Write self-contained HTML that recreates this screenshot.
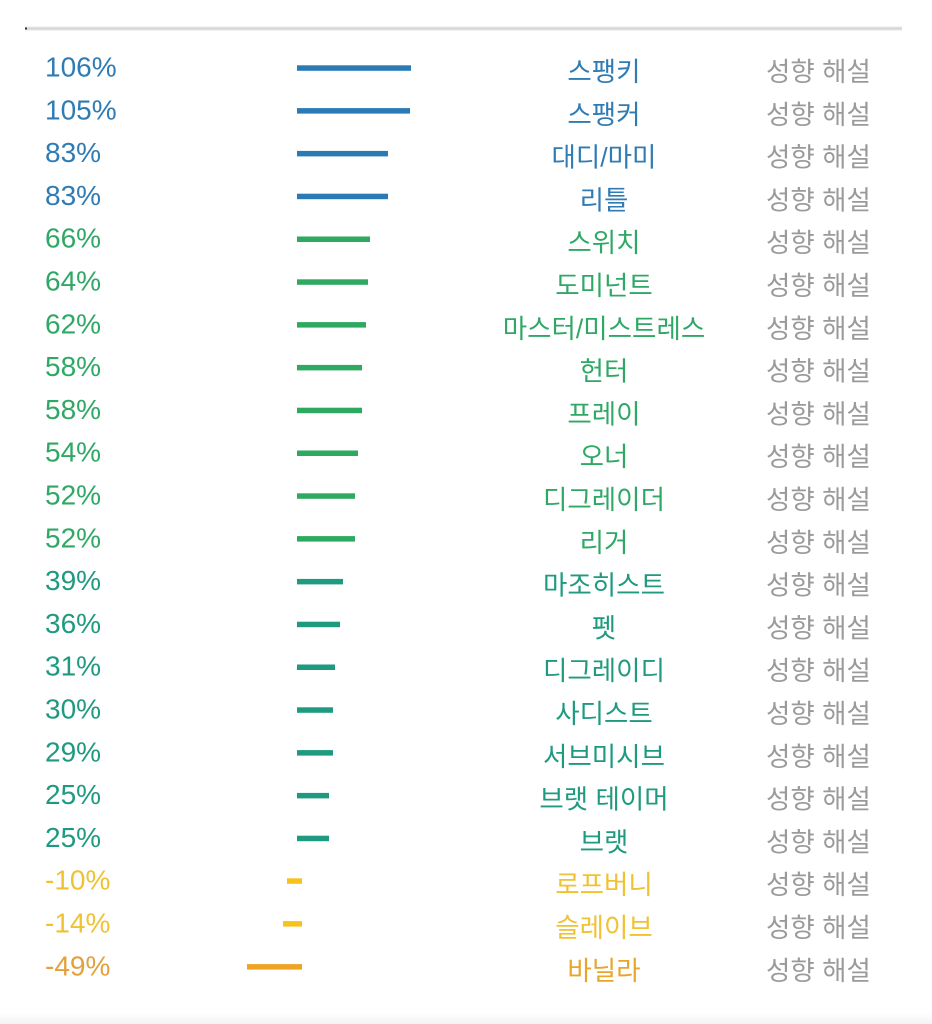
<!DOCTYPE html>
<html><head><meta charset="utf-8">
<style>
html,body{margin:0;padding:0;background:#fff;}
svg{display:block;}
.p{font-family:"Liberation Sans",Arial,sans-serif;font-size:28px;}
.n{font-family:"Liberation Sans","Noto Sans CJK KR",sans-serif;font-size:26.5px;text-anchor:middle;}
.g{font-family:"Liberation Sans","Noto Sans CJK KR",sans-serif;font-size:26.5px;fill:#9a9a9a;}
</style></head><body>
<svg width="932" height="1024" viewBox="0 0 932 1024" xmlns="http://www.w3.org/2000/svg">
<defs>
<linearGradient id="tl" x1="0" y1="0" x2="0" y2="1">
<stop offset="0" stop-color="#ececec"/><stop offset="0.5" stop-color="#d4d4d4"/><stop offset="1" stop-color="#e8e8e8"/>
</linearGradient>
<linearGradient id="bt" x1="0" y1="0" x2="0" y2="1">
<stop offset="0" stop-color="#ffffff"/><stop offset="1" stop-color="#f3f3f3"/>
</linearGradient>
</defs>
<rect x="25" y="26.5" width="877" height="4" fill="url(#tl)"/>
<rect x="25" y="27.5" width="2" height="2" fill="#333"/>
<rect x="0" y="1013" width="932" height="11" fill="url(#bt)"/>

<g id="rows">
<text class="p" x="45" y="76.5" fill="#2f7bb3">106%</text>
<rect x="297" y="65.3" width="114" height="5.5" fill="#2a7ab6"/>
<text class="n" x="604" y="81" fill="#2f7bb3">스팽키</text>
<text class="g" x="766" y="81">성향 해설</text>

<text class="p" x="45" y="119.3" fill="#2f7bb3">105%</text>
<rect x="297" y="108.1" width="113" height="5.5" fill="#2a7ab6"/>
<text class="n" x="604" y="123.8" fill="#2f7bb3">스팽커</text>
<text class="g" x="766" y="123.8">성향 해설</text>

<text class="p" x="45" y="162.1" fill="#2f7bb3">83%</text>
<rect x="297" y="150.9" width="91" height="5.5" fill="#2a7ab6"/>
<text class="n" x="604" y="166.6" fill="#2f7bb3">대디/마미</text>
<text class="g" x="766" y="166.6">성향 해설</text>

<text class="p" x="45" y="204.9" fill="#2f7bb3">83%</text>
<rect x="297" y="193.7" width="91" height="5.5" fill="#2a7ab6"/>
<text class="n" x="604" y="209.4" fill="#2f7bb3">리틀</text>
<text class="g" x="766" y="209.4">성향 해설</text>

<text class="p" x="45" y="247.7" fill="#2fa866">66%</text>
<rect x="297" y="236.5" width="73" height="5.5" fill="#2eaa60"/>
<text class="n" x="604" y="252.2" fill="#2fa866">스위치</text>
<text class="g" x="766" y="252.2">성향 해설</text>

<text class="p" x="45" y="290.5" fill="#2fa866">64%</text>
<rect x="297" y="279.3" width="71" height="5.5" fill="#2eaa60"/>
<text class="n" x="604" y="295" fill="#2fa866">도미넌트</text>
<text class="g" x="766" y="295">성향 해설</text>

<text class="p" x="45" y="333.3" fill="#2fa866">62%</text>
<rect x="297" y="322.1" width="69" height="5.5" fill="#2eaa60"/>
<text class="n" x="604" y="337.8" fill="#2fa866">마스터/미스트레스</text>
<text class="g" x="766" y="337.8">성향 해설</text>

<text class="p" x="45" y="376.1" fill="#2fa866">58%</text>
<rect x="297" y="364.9" width="65" height="5.5" fill="#2eaa60"/>
<text class="n" x="604" y="380.6" fill="#2fa866">헌터</text>
<text class="g" x="766" y="380.6">성향 해설</text>

<text class="p" x="45" y="418.9" fill="#2fa866">58%</text>
<rect x="297" y="407.7" width="65" height="5.5" fill="#2eaa60"/>
<text class="n" x="604" y="423.4" fill="#2fa866">프레이</text>
<text class="g" x="766" y="423.4">성향 해설</text>

<text class="p" x="45" y="461.7" fill="#2fa866">54%</text>
<rect x="297" y="450.5" width="61" height="5.5" fill="#2eaa60"/>
<text class="n" x="604" y="466.2" fill="#2fa866">오너</text>
<text class="g" x="766" y="466.2">성향 해설</text>

<text class="p" x="45" y="504.5" fill="#2fa866">52%</text>
<rect x="297" y="493.3" width="58" height="5.5" fill="#2eaa60"/>
<text class="n" x="604" y="509" fill="#2fa866">디그레이더</text>
<text class="g" x="766" y="509">성향 해설</text>

<text class="p" x="45" y="547.3" fill="#2fa866">52%</text>
<rect x="297" y="536.1" width="58" height="5.5" fill="#2eaa60"/>
<text class="n" x="604" y="551.8" fill="#2fa866">리거</text>
<text class="g" x="766" y="551.8">성향 해설</text>

<text class="p" x="45" y="590.1" fill="#1f9a80">39%</text>
<rect x="297" y="578.9" width="46" height="5.5" fill="#1d9a80"/>
<text class="n" x="604" y="594.6" fill="#1f9a80">마조히스트</text>
<text class="g" x="766" y="594.6">성향 해설</text>

<text class="p" x="45" y="632.9" fill="#1f9a80">36%</text>
<rect x="297" y="621.7" width="43" height="5.5" fill="#1d9a80"/>
<text class="n" x="604" y="637.4" fill="#1f9a80">펫</text>
<text class="g" x="766" y="637.4">성향 해설</text>

<text class="p" x="45" y="675.7" fill="#1f9a80">31%</text>
<rect x="297" y="664.5" width="38" height="5.5" fill="#1d9a80"/>
<text class="n" x="604" y="680.2" fill="#1f9a80">디그레이디</text>
<text class="g" x="766" y="680.2">성향 해설</text>

<text class="p" x="45" y="718.5" fill="#1f9a80">30%</text>
<rect x="297" y="707.3" width="36" height="5.5" fill="#1d9a80"/>
<text class="n" x="604" y="723" fill="#1f9a80">사디스트</text>
<text class="g" x="766" y="723">성향 해설</text>

<text class="p" x="45" y="761.3" fill="#1f9a80">29%</text>
<rect x="297" y="750.1" width="36" height="5.5" fill="#1d9a80"/>
<text class="n" x="604" y="765.8" fill="#1f9a80">서브미시브</text>
<text class="g" x="766" y="765.8">성향 해설</text>

<text class="p" x="45" y="804.1" fill="#1f9a80">25%</text>
<rect x="297" y="792.9" width="32" height="5.5" fill="#1d9a80"/>
<text class="n" x="604" y="808.6" fill="#1f9a80">브랫 테이머</text>
<text class="g" x="766" y="808.6">성향 해설</text>

<text class="p" x="45" y="846.9" fill="#1f9a80">25%</text>
<rect x="297" y="835.7" width="32" height="5.5" fill="#1d9a80"/>
<text class="n" x="604" y="851.4" fill="#1f9a80">브랫</text>
<text class="g" x="766" y="851.4">성향 해설</text>

<text class="p" x="45" y="889.7" fill="#f0c232">-10%</text>
<rect x="287" y="878.3" width="15" height="5.5" fill="#f7c21a"/>
<text class="n" x="604" y="894.2" fill="#f0c232">로프버니</text>
<text class="g" x="766" y="894.2">성향 해설</text>

<text class="p" x="45" y="932.5" fill="#f0c232">-14%</text>
<rect x="283" y="921.1" width="19" height="5.5" fill="#f7c21a"/>
<text class="n" x="604" y="937" fill="#f0c232">슬레이브</text>
<text class="g" x="766" y="937">성향 해설</text>

<text class="p" x="45" y="975.3" fill="#e3a03c">-49%</text>
<rect x="247" y="964.1" width="55" height="5.5" fill="#f0a224"/>
<text class="n" x="604" y="979.8" fill="#e9a52a">바닐라</text>
<text class="g" x="766" y="979.8">성향 해설</text>
</g>
</svg>
</body></html>
